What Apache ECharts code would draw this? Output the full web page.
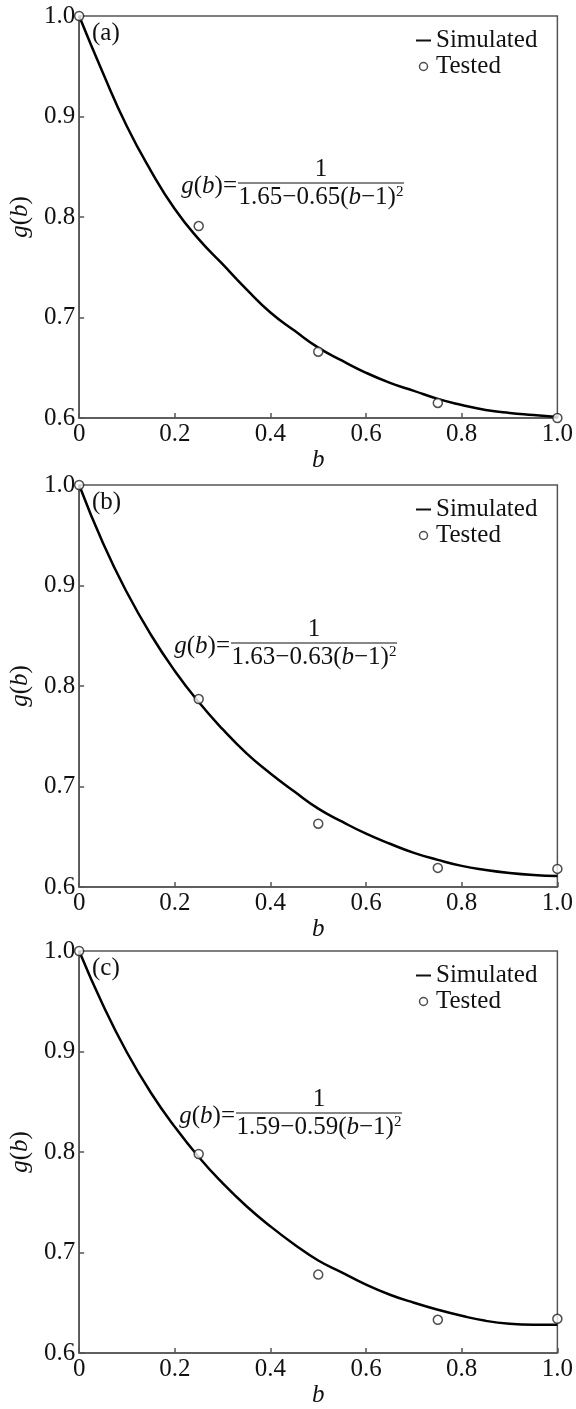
<!DOCTYPE html>
<html>
<head>
<meta charset="utf-8">
<script src="https://cdn.jsdelivr.net/npm/echarts@6/dist/echarts.min.js"></script>
<style>
  html, body { margin: 0; padding: 0; background: #fff; }
  #chart { width: 576px; height: 1409px; }
</style>
</head>
<body>
<div id="chart"></div>
<script>
// b values of the simulated curves
const bSim = [0, 0.05, 0.1, 0.15, 0.2, 0.25, 0.3, 0.35, 0.4, 0.45, 0.5,
  0.55, 0.6, 0.65, 0.7, 0.75, 0.8, 0.85, 0.9, 0.95, 1.0];
// simulated g(b)
const simA = [1.000, 0.943, 0.890, 0.846, 0.808, 0.778, 0.753, 0.728, 0.705, 0.687, 0.670,
  0.657, 0.645, 0.635, 0.627, 0.619, 0.613, 0.608, 0.605, 0.603, 0.601];
const simB = [1.000, 0.942, 0.893, 0.851, 0.815, 0.784, 0.757, 0.733, 0.713, 0.695, 0.678,
  0.665, 0.653, 0.643, 0.634, 0.627, 0.621, 0.617, 0.614, 0.612, 0.611];
const simC = [1.000, 0.946, 0.899, 0.859, 0.825, 0.795, 0.769, 0.746, 0.726, 0.708, 0.692,
  0.680, 0.668, 0.658, 0.650, 0.643, 0.637, 0.632, 0.629, 0.628, 0.628];
// tested points
const bTest = [0, 0.25, 0.5, 0.75, 1.0];
const testA = [1.000, 0.791, 0.666, 0.615, 0.600];
const testB = [1.000, 0.787, 0.663, 0.619, 0.618];
const testC = [1.000, 0.798, 0.678, 0.633, 0.634];

const panelTags = ['(a)', '(b)', '(c)'];
const fitCoef = [['1.65', '0.65'], ['1.63', '0.63'], ['1.59', '0.59']];

const FONT = '"Liberation Serif", "Times New Roman", serif';
const gridTops = [16, 485, 951];
const gridH = 402, gridL = 76, gridW = 489;
// fraction bar start (x) and height (y) of each formula
const fracPos = [[238, 183], [231, 643], [236, 1113]];

const chart = echarts.init(document.getElementById('chart'));

const sims = [simA, simB, simC];
const tests = [testA, testB, testC];

let grids = [], xAxes = [], yAxes = [], series = [], legends = [], graphics = [];

const italicRich = {
  i: { fontFamily: FONT, fontStyle: 'italic', fontSize: 25, color: '#111' },
  n: { fontFamily: FONT, fontSize: 25, color: '#111' }
};

const dotStyle = { color: '#fff', borderColor: '#222', borderWidth: 1.5 };

for (let k = 0; k < 3; k++) {
  grids.push({
    left: gridL, top: gridTops[k], width: gridW, height: gridH,
    show: true, borderColor: '#555', borderWidth: 1.5, backgroundColor: 'transparent'
  });
  xAxes.push({
    type: 'value', gridIndex: k, min: 0, max: 1, interval: 0.2,
    name: '{i|b}', nameLocation: 'middle', nameGap: 13,
    nameTextStyle: { rich: italicRich },
    axisLine: { lineStyle: { color: '#555', width: 1.5 } },
    axisTick: { inside: true, length: 5, lineStyle: { color: '#555', width: 1.5 } },
    splitLine: { show: false },
    axisLabel: {
      margin: 4, color: '#111', fontFamily: FONT, fontSize: 25,
      formatter: v => v === 0 ? '0' : v.toFixed(1)
    }
  });
  yAxes.push({
    type: 'value', gridIndex: k, min: 0.6, max: 1.0, interval: 0.1,
    name: '{i|g}{n|(}{i|b}{n|)}', nameLocation: 'middle', nameGap: 42,
    nameTextStyle: { rich: italicRich },
    axisLine: { lineStyle: { color: '#555', width: 1.5 } },
    axisTick: { inside: true, length: 5, lineStyle: { color: '#555', width: 1.5 } },
    splitLine: { show: false },
    axisLabel: {
      margin: 4, color: '#111', fontFamily: FONT, fontSize: 25,
      formatter: v => v.toFixed(1)
    }
  });
  series.push({
    name: 'Simulated', type: 'line', xAxisIndex: k, yAxisIndex: k,
    data: bSim.map((b, i) => [b, sims[k][i]]),
    symbol: 'none', smooth: true,
    lineStyle: { color: '#000', width: 2.5 }, itemStyle: { color: '#000' },
    z: 2
  });
  series.push({
    name: 'Tested', type: 'scatter', xAxisIndex: k, yAxisIndex: k,
    data: bTest.map((b, i) => [b, tests[k][i]]),
    symbol: 'circle', symbolSize: 9,
    itemStyle: dotStyle,
    z: 3, clip: false
  });
  legends.push({
    orient: 'vertical', left: 411, top: gridTops[k] + 7,
    itemWidth: 15, itemHeight: 8, itemGap: 1,
    textStyle: { fontFamily: FONT, fontSize: 25, color: '#111', lineHeight: 25 },
    data: [
      { name: 'Simulated', icon: 'path://M0,0H15V2H0Z', itemStyle: { color: '#111' } },
      { name: 'Tested', icon: 'circle', itemStyle: dotStyle }
    ]
  });

  // panel tag
  graphics.push({
    type: 'text', left: gridL + 16, top: gridTops[k] + 5,
    style: { text: panelTags[k], fontFamily: FONT, fontSize: 25, fill: '#111' }
  });

  // fitted formula g(b) = 1 / (c0 - c1 (b-1)^2)
  const [fx, fy] = fracPos[k];
  const fw = 166;
  graphics.push({
    type: 'text', x: fx - 1, y: fy + 3,
    style: {
      text: '{i|g}{n|(}{i|b}{n|)=}', align: 'right', verticalAlign: 'middle',
      rich: { i: { fontFamily: FONT, fontStyle: 'italic', fontSize: 25, fill: '#111' },
              n: { fontFamily: FONT, fontSize: 25, fill: '#111' } }
    }
  });
  graphics.push({
    type: 'line', shape: { x1: fx, y1: fy, x2: fx + fw, y2: fy },
    style: { stroke: '#111', lineWidth: 1.2 }
  });
  graphics.push({
    type: 'text', x: fx + fw / 2, y: fy - 1,
    style: { text: '1', align: 'center', verticalAlign: 'bottom', fontFamily: FONT, fontSize: 25, fill: '#111' }
  });
  graphics.push({
    type: 'text', x: fx + fw / 2, y: fy + 2,
    style: {
      text: '{n|' + fitCoef[k][0] + '−' + fitCoef[k][1] + '(}{i|b}{n|−1)}{s|2}',
      align: 'center', verticalAlign: 'top',
      rich: { i: { fontFamily: FONT, fontStyle: 'italic', fontSize: 25, fill: '#111' },
              n: { fontFamily: FONT, fontSize: 25, fill: '#111' },
              s: { fontFamily: FONT, fontSize: 15, fill: '#111', verticalAlign: 'top', padding: [0, 0, 10, 0] } }
    }
  });
}

const option = {
  backgroundColor: '#fff',
  animation: false,
  grid: grids,
  xAxis: xAxes,
  yAxis: yAxes,
  legend: legends,
  series: series,
  graphic: graphics
};
chart.setOption(option);
</script>
</body>
</html>
